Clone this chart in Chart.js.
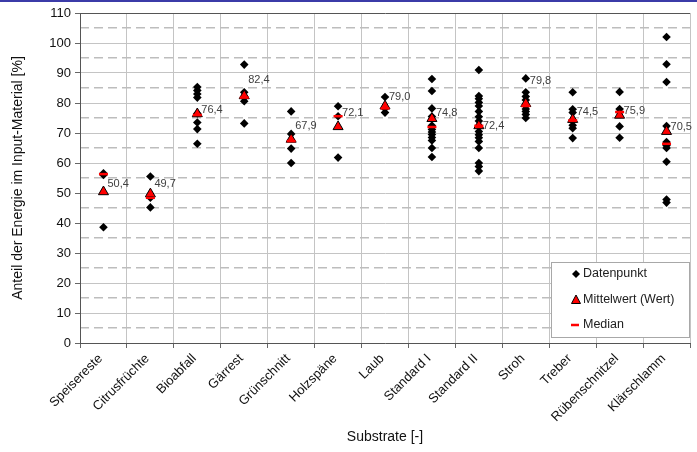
<!DOCTYPE html>
<html><head><meta charset="utf-8">
<script src="https://cdn.jsdelivr.net/npm/chart.js@4.4.1/dist/chart.umd.min.js"></script>
<style>html,body{margin:0;padding:0;background:#fff;}#wrap{width:697px;height:452px;position:relative;}</style>
</head><body><div id="wrap"><canvas id="c" width="697" height="452"></canvas></div>
<script>
const categories = ['Speisereste','Citrusfrüchte','Bioabfall','Gärrest','Grünschnitt','Holzspäne','Laub','Standard I','Standard II','Stroh','Treber','Rübenschnitzel','Klärschlamm'];
const pSpeisereste = [56.0, 56.6, 38.6];
const pCitrus = [55.5, 48.4, 45.2];
const pBioabfall = [85.3, 84.2, 83.0, 81.8, 76.5, 73.5, 71.3, 66.4];
const pGaerrest = [92.8, 83.6, 81.8, 80.6, 73.2];
const pGruenschnitt = [77.2, 69.7, 64.8, 60.0];
const pHolzspaene = [78.9, 75.6, 61.8];
const pLaub = [82.0, 78.2, 76.8];
const pStandard1 = [88.0, 84.0, 78.2, 75.5, 72.5, 71.2, 70.3, 69.5, 68.5, 67.5, 65.0, 62.0];
const pStandard2 = [91.0, 82.3, 81.4, 80.2, 79.0, 77.2, 75.4, 74.0, 72.4, 70.5, 69.4, 68.4, 67.2, 65.0, 60.0, 58.8, 57.3];
const pStroh = [88.2, 83.6, 82.2, 81.0, 79.0, 78.0, 77.2, 76.2, 75.0];
const pTreber = [83.6, 77.9, 76.8, 74.2, 72.6, 71.6, 68.3];
const pRuebenschnitzel = [83.7, 78.0, 77.0, 72.2, 68.4];
const pKlaerschlamm = [102.0, 92.9, 87.0, 72.3, 67.0, 65.8, 65.0, 60.4, 47.8, 46.8];
const means = [50.4, 49.7, 76.4, 82.4, 67.9, 72.1, 79.0, 74.8, 72.4, 79.8, 74.5, 75.9, 70.5];
const medians = [56.3, 48.4, 76.0, 81.8, 67.3, 75.6, 78.2, 72.0, 72.4, 79.0, 74.2, 77.0, 66.4];
const yTicks = [0, 10, 20, 30, 40, 50, 60, 70, 80, 90, 100, 110];
const yMinorTicks = [5, 15, 25, 35, 45, 55, 65, 75, 85, 95, 105];

const allPoints = [pSpeisereste, pCitrus, pBioabfall, pGaerrest, pGruenschnitt, pHolzspaene, pLaub, pStandard1, pStandard2, pStroh, pTreber, pRuebenschnitzel, pKlaerschlamm];
const pointData = [];
allPoints.forEach((arr, i) => arr.forEach(v => pointData.push({x: categories[i], y: v})));
const meanData = means.map((v, i) => ({x: categories[i], y: v}));
const medianData = medians.map((v, i) => ({x: categories[i], y: v}));

// label vertical shifts (pixels) for the mean value labels
const labelDy = [-8, -10, -4, -16, -13, -14, -9, -6, 0, -23, -8, -4, -5];

const FONT = 'Arial, "Liberation Sans", sans-serif';

const decor = {
  id: 'decor',
  beforeDraw(chart) {
    const ctx = chart.ctx;
    ctx.save();
    ctx.fillStyle = '#fff';
    ctx.fillRect(0, 0, chart.width, chart.height);
    ctx.restore();
  },
  afterDatasetsDraw(chart) {
    const ctx = chart.ctx;
    const meta = chart.getDatasetMeta(1);
    ctx.save();
    ctx.font = '11px ' + FONT;
    ctx.fillStyle = '#404040';
    ctx.textAlign = 'left';
    ctx.textBaseline = 'middle';
    meta.data.forEach((el, i) => {
      const txt = means[i].toFixed(1).replace('.', ',');
      ctx.fillText(txt, el.x + 4, el.y + labelDy[i]);
    });
    ctx.restore();
  },
  afterDraw(chart) {
    const ctx = chart.ctx;
    ctx.save();
    // top blue rule
    ctx.fillStyle = '#3b3ba8';
    ctx.fillRect(0, 0, chart.width, 2);
    // legend box
    const lx = 551, ly = 262, lw = 138, lh = 75;
    ctx.fillStyle = '#fff';
    ctx.fillRect(lx, ly, lw, lh);
    ctx.strokeStyle = '#a8a8a8';
    ctx.lineWidth = 1;
    ctx.strokeRect(lx + 0.5, ly + 0.5, lw, lh);
    const ix = 576, tx = 583;
    const rows = [274, 300, 325];
    // diamond
    ctx.fillStyle = '#000';
    ctx.beginPath();
    ctx.moveTo(ix, rows[0] - 4); ctx.lineTo(ix + 4, rows[0]); ctx.lineTo(ix, rows[0] + 4); ctx.lineTo(ix - 4, rows[0]);
    ctx.closePath(); ctx.fill();
    // triangle
    ctx.beginPath();
    ctx.moveTo(ix, rows[1] - 5); ctx.lineTo(ix + 4.5, rows[1] + 3.5); ctx.lineTo(ix - 4.5, rows[1] + 3.5);
    ctx.closePath();
    ctx.fillStyle = '#ff0000'; ctx.fill();
    ctx.strokeStyle = '#000'; ctx.lineWidth = 1; ctx.stroke();
    // median dash
    ctx.strokeStyle = '#ff0000'; ctx.lineWidth = 2.5;
    ctx.beginPath(); ctx.moveTo(ix - 5, rows[2]); ctx.lineTo(ix + 3, rows[2]); ctx.stroke();
    ctx.fillStyle = '#202020';
    ctx.font = '12.5px ' + FONT;
    ctx.textAlign = 'left'; ctx.textBaseline = 'middle';
    ctx.fillText('Datenpunkt', tx, rows[0]);
    ctx.fillText('Mittelwert (Wert)', tx, rows[1]);
    ctx.fillText('Median', tx, rows[2]);
    ctx.restore();
  }
};

new Chart(document.getElementById('c'), {
  type: 'line',
  data: {
    labels: categories,
    datasets: [
      { label: 'Median', data: medianData, showLine: false, order: 0,
        pointStyle: 'line', pointRadius: 4.5, pointBorderWidth: 2.5, pointBorderColor: '#ff0000', pointBackgroundColor: '#ff0000', borderColor: '#ff0000' },
      { label: 'Mittelwert (Wert)', data: meanData, showLine: false, order: 1,
        pointStyle: 'triangle', pointRadius: 5.8, pointBorderWidth: 1, pointBorderColor: '#000', pointBackgroundColor: '#ff0000', borderColor: '#000' },
      { label: 'Datenpunkt', data: pointData, showLine: false, order: 2,
        pointStyle: 'rectRot', pointRadius: 4.3, pointBorderWidth: 0, pointBorderColor: '#000', pointBackgroundColor: '#000', borderColor: '#000' }
    ]
  },
  options: {
    responsive: false,
    animation: false,
    layout: { padding: { top: 13, right: 0, left: 0, bottom: 0 } },
    plugins: { legend: { display: false }, tooltip: { enabled: false } },
    scales: {
      x: {
        type: 'category',
        offset: true,
        grid: { offset: true, color: '#c4c4c4', lineWidth: 1, tickColor: '#666', tickLength: 5 },
        border: { color: '#555', width: 1 },
        ticks: { autoSkip: false, minRotation: 45, maxRotation: 45, labelOffset: -3, color: '#111', font: { family: FONT, size: 13 }, padding: 3 },
        title: { display: true, text: 'Substrate [-]', color: '#111', font: { family: FONT, size: 14 }, padding: { top: 0, bottom: 6 } },
        afterFit(s) { s.height = 109; }
      },
      y: {
        min: 0, max: 110,
        afterBuildTicks(s) { s.ticks = yTicks.map(v => ({ value: v })); },
        grid: { color: ctx => (ctx.tick && ctx.tick.value === 110) ? '#555' : '#c4c4c4', lineWidth: 1, tickColor: '#666', tickLength: 5 },
        border: { color: '#555', width: 1 },
        ticks: { color: '#111', font: { family: FONT, size: 13 }, padding: 4 },
        title: { display: true, text: 'Anteil der Energie im Input-Material [%]', color: '#111', font: { family: FONT, size: 14 }, padding: { top: 10, bottom: 0 } },
        afterFit(s) { s.width = 80; }
      },
      y2: {
        position: 'right',
        min: 0, max: 110,
        afterBuildTicks(s) { s.ticks = yMinorTicks.map(v => ({ value: v })); },
        grid: { color: '#bdbdbd', lineWidth: 1.5, drawTicks: false },
        border: { display: false, dash: [9, 5] },
        ticks: { display: false },
        afterFit(s) { s.width = 0; }
      }
    }
  },
  plugins: [decor]
});
</script>
</body></html>
